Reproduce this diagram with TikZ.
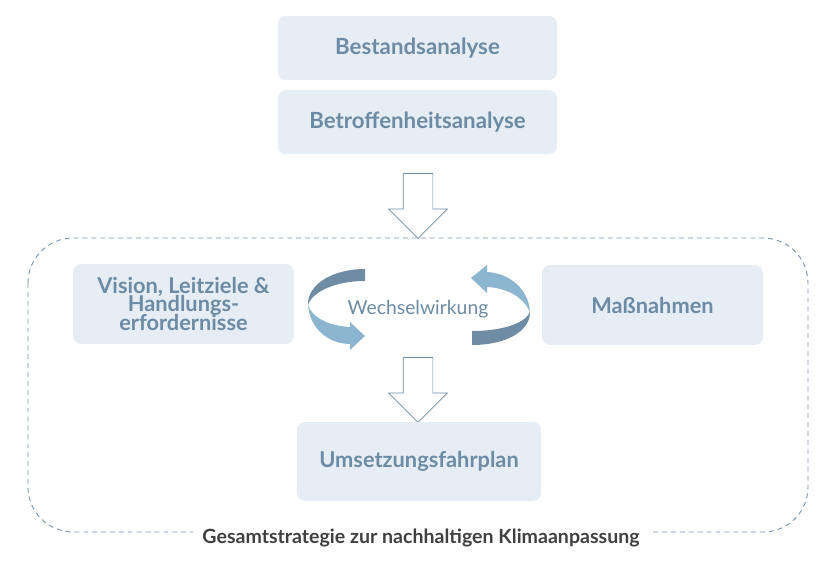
\documentclass[tikz,border=0pt]{standalone}
\usepackage{fontspec}
\setmainfont{Lato}
\usetikzlibrary{shapes.arrows}
\definecolor{boxfill}{RGB}{230,237,244}
\definecolor{boxtext}{RGB}{108,139,164}
\definecolor{arrowlight}{RGB}{140,181,208}
\definecolor{arrowdark}{RGB}{110,140,163}
\definecolor{framedash}{RGB}{124,151,175}
\definecolor{labelgrey}{RGB}{64,64,64}

\begin{document}
\begin{tikzpicture}[
				x=0.03cm, y=-0.03cm,
				abox/.style={fill=boxfill, rounded corners=7pt, text=boxtext,
					minimum width=8.37cm, minimum height=1.92cm,
					align=center, font=\fontsize{19}{15.7}\selectfont\bfseries},
				kbox/.style={fill=boxfill, rounded corners=7pt, text=boxtext,
					minimum width=6.63cm, minimum height=2.4cm,
					align=center, font=\fontsize{18.6}{16}\selectfont\bfseries},
				barrow/.style={single arrow, draw=arrowdark, fill=white, line width=0.6pt,
					rotate=-90, minimum height=1.95cm, minimum width=1.74cm,
					inner xsep=0pt, inner ysep=0.435cm, single arrow head extend=0.435cm},
				framebox/.style={draw=framedash, line width=0.8pt, rounded corners=1.35cm,
					dash pattern=on 4.2pt off 3.4pt}
				]
				\useasboundingbox (0,0) rectangle (837,565);
				\node[abox] (bestand)   at (417.5, 48)  {Bestandsanalyse};
				\node[abox] (betroffen) at (417.5,122)  {Betroffenheitsanalyse};
				\node[barrow] (pfeiloben) at (418,198.5) {};
				\draw[framebox] (28,238) rectangle (808,532);
				\node[fill=white, inner xsep=8pt, inner ysep=6pt, text=labelgrey,
					font=\fontsize{16.7}{18}\selectfont\bfseries] (strategie) at (421,538)
					{Gesamtstrategie zur nachhaltigen Klimaanpassung};
				\node[kbox] (vision)     at (183.5,304) {Vision, Leitziele \&\\[-1.8pt]Handlungs-\\[-1.8pt]erfordernisse};
				\node[kbox] (massnahmen) at (652.5,305) {Maßnahmen};
				\node[text=boxtext, font=\fontsize{16.5}{18}\selectfont] (wechsel) at (418,309) {Wechselwirkung};
				\node[barrow] (pfeilunten) at (418,382.5) {};
				\node[kbox, minimum width=7.32cm, minimum height=2.37cm] (umsetzung) at (419,461.5) {Umsetzungsfahrplan};
				% Wechselwirkung, links
				\fill[arrowdark] (365,269) .. controls (332,269) and (307,285) .. (308,305)
					.. controls (312,292) and (335,281) .. (365,281) -- cycle;
				\fill[arrowlight] (308,305) .. controls (310,330) and (330,344) .. (350,344)
					-- (350,350) -- (365,336) -- (350,322) -- (350,327)
					.. controls (330,326) and (312,318) .. (308,305) -- cycle;
				% Wechselwirkung, rechts
				\fill[arrowlight] (487,272) .. controls (510,273) and (529,290) .. (530,312)
					.. controls (524,298) and (508,288) .. (487,287)
					-- (487,293) -- (471,278) -- (487,265) -- cycle;
				\fill[arrowdark] (530,312) .. controls (530,332) and (505,345) .. (472,345)
					-- (472,331) .. controls (505,331) and (526,322) .. (530,312) -- cycle;
			\end{tikzpicture}
\end{document}
